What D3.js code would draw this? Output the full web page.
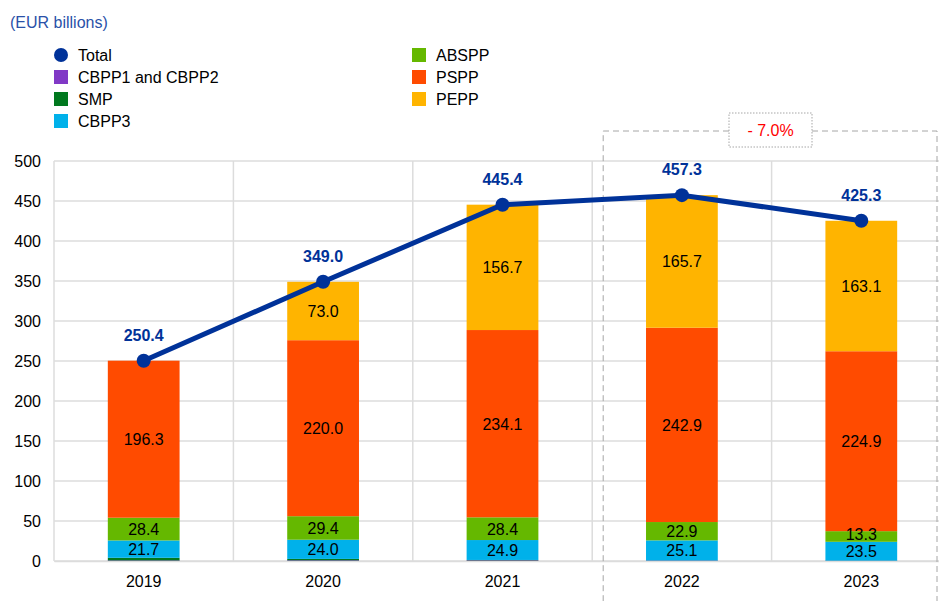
<!DOCTYPE html>
<html>
<head>
<meta charset="utf-8">
<script src="https://cdn.jsdelivr.net/npm/d3@7"></script>
<style>
  body { margin: 0; background: #fff; }
  text { font-family: "Liberation Sans", Arial, sans-serif; }
</style>
</head>
<body>
<div class="chart"></div>
<script>
// data (EUR billions)
var years = ["2019", "2020", "2021", "2022", "2023"];
var cbpp12 = [0.7, 0.8, 0.8, 0.5, 0.3];
var smp = [3.3, 1.8, 0.5, 0.2, 0.2];
var cbpp3 = [21.7, 24.0, 24.9, 25.1, 23.5];
var abspp = [28.4, 29.4, 28.4, 22.9, 13.3];
var pspp = [196.3, 220.0, 234.1, 242.9, 224.9];
var pepp = [0, 73.0, 156.7, 165.7, 163.1];
var total = [250.4, 349.0, 445.4, 457.3, 425.3];
var yTicks = [0, 50, 100, 150, 200, 250, 300, 350, 400, 450, 500];
var changeLabel = "- 7.0%";

var seriesNames = ["CBPP1 and CBPP2", "SMP", "CBPP3", "ABSPP", "PSPP", "PEPP"];
var seriesData = [cbpp12, smp, cbpp3, abspp, pspp, pepp];
var colors = ["#8139c6", "#00781e", "#00b1ea", "#65b800", "#ff4b00", "#ffb400"];
var labelled = [false, false, true, true, true, true];
var navy = "#003299";
var fs = "16px";

var svgWidth = 939;
var svgHeight = 601;

var svg = d3.select(".chart")
  .append("svg")
  .attr("width", svgWidth)
  .attr("height", svgHeight);

var x = d3.scaleBand()
  .domain(years)
  .range([54, 951])
  .padding(0);

var y = d3.scaleLinear()
  .domain([0, 500])
  .range([561, 161]);

// build stacked table
var table = years.map(function(yr, i) {
  var row = { year: yr };
  seriesNames.forEach(function(s, j) { row[s] = seriesData[j][i]; });
  return row;
});
var stacked = d3.stack().keys(seriesNames)(table);

// gridlines
svg.append("g")
  .selectAll("line")
  .data(yTicks)
  .enter()
  .append("line")
  .attr("x1", 54)
  .attr("x2", 951)
  .attr("y1", d => y(d))
  .attr("y2", d => y(d))
  .attr("stroke", "#dcdcdc")
  .attr("stroke-width", 1.5);

svg.append("g")
  .selectAll("line")
  .data(years)
  .enter()
  .append("line")
  .attr("x1", d => x(d))
  .attr("x2", d => x(d))
  .attr("y1", y(500))
  .attr("y2", y(0))
  .attr("stroke", "#dcdcdc")
  .attr("stroke-width", 1.5);

// y axis labels
var leftAxis = d3.axisLeft(y).tickValues(yTicks).tickSize(0).tickPadding(13);
var yAxis = svg.append("g")
  .attr("transform", "translate(54,0)")
  .call(leftAxis);
yAxis.select(".domain").remove();
yAxis.selectAll("text")
  .attr("font-size", fs)
  .attr("fill", "#000")
  .attr("font-family", "Liberation Sans, Arial, sans-serif");

// x axis labels
var bottomAxis = d3.axisBottom(x).tickSize(0).tickPadding(15);
var xAxis = svg.append("g")
  .attr("transform", `translate(0, ${y(0)})`)
  .call(bottomAxis);
xAxis.select(".domain").attr("stroke", "#dcdcdc").attr("stroke-width", 1.5);
xAxis.selectAll("text")
  .attr("font-size", fs)
  .attr("fill", "#000")
  .attr("font-family", "Liberation Sans, Arial, sans-serif");

// bars
var bw = x.bandwidth() * 0.4;
var layers = svg.append("g")
  .selectAll("g")
  .data(stacked)
  .enter()
  .append("g")
  .attr("fill", (d, i) => colors[i]);

layers.selectAll("rect")
  .data(d => d)
  .enter()
  .append("rect")
  .attr("x", d => x(d.data.year) + (x.bandwidth() - bw) / 2)
  .attr("width", bw)
  .attr("y", d => y(d[1]))
  .attr("height", d => y(d[0]) - y(d[1]));

// segment labels (thin segments get nudged up a little)
stacked.forEach(function(layer, j) {
  if (!labelled[j]) return;
  svg.append("g")
    .selectAll("text")
    .data(layer.filter(d => d[1] - d[0] > 0))
    .enter()
    .append("text")
    .attr("x", d => x(d.data.year) + x.bandwidth() / 2)
    .attr("y", function(d) {
      var h = y(d[0]) - y(d[1]);
      var mid = (y(d[0]) + y(d[1])) / 2 + 6;
      return h < 14 ? mid - 2 : mid;
    })
    .attr("text-anchor", "middle")
    .attr("font-size", fs)
    .attr("fill", "#000")
    .text(d => d3.format(".1f")(d[1] - d[0]));
});

// annotation box for 2022-2023
var boxLeft = x("2022") + 11;
var boxRight = 937;
var boxTop = 131;
var lblX0 = 729, lblX1 = 812, lblY0 = 113, lblY1 = 147;
var dash = svg.append("g")
  .attr("fill", "none")
  .attr("stroke", "#a6a6a6")
  .attr("stroke-width", 1)
  .attr("stroke-dasharray", "6,4");
dash.append("path")
  .attr("d", `M${lblX0},${boxTop} H${boxLeft} V${svgHeight}`);
dash.append("path")
  .attr("d", `M${lblX1},${boxTop} H${boxRight} V${svgHeight}`);

svg.append("rect")
  .attr("x", lblX0)
  .attr("y", lblY0)
  .attr("width", lblX1 - lblX0)
  .attr("height", lblY1 - lblY0)
  .attr("fill", "#fff")
  .attr("stroke", "#a6a6a6")
  .attr("stroke-width", 1)
  .attr("stroke-dasharray", "1.5,1.5");
svg.append("text")
  .attr("x", (lblX0 + lblX1) / 2)
  .attr("y", (lblY0 + lblY1) / 2 + 6)
  .attr("text-anchor", "middle")
  .attr("font-size", fs)
  .attr("fill", "#ff0000")
  .text(changeLabel);

// total line
var cx = d => x(d) + x.bandwidth() / 2;
var line = d3.line()
  .x((d, i) => cx(years[i]))
  .y(d => y(d));

svg.append("path")
  .datum(total)
  .attr("fill", "none")
  .attr("stroke", navy)
  .attr("stroke-width", 5)
  .attr("d", line);

svg.append("g")
  .selectAll("circle")
  .data(total)
  .enter()
  .append("circle")
  .attr("cx", (d, i) => cx(years[i]))
  .attr("cy", d => y(d))
  .attr("r", 7)
  .attr("fill", navy);

svg.append("g")
  .selectAll("text")
  .data(total)
  .enter()
  .append("text")
  .attr("x", (d, i) => cx(years[i]))
  .attr("y", d => y(d) - 20)
  .attr("text-anchor", "middle")
  .attr("font-size", fs)
  .attr("font-weight", "bold")
  .attr("fill", navy)
  .text(d => d3.format(".1f")(d));

// unit label
svg.append("text")
  .attr("x", 10)
  .attr("y", 28)
  .attr("font-size", fs)
  .attr("fill", "#2a51a8")
  .text("(EUR billions)");

// legend
var legendItems = [
  { name: "Total", color: navy, dot: true, col: 0, row: 0 },
  { name: "CBPP1 and CBPP2", color: colors[0], col: 0, row: 1 },
  { name: "SMP", color: colors[1], col: 0, row: 2 },
  { name: "CBPP3", color: colors[2], col: 0, row: 3 },
  { name: "ABSPP", color: colors[3], col: 1, row: 0 },
  { name: "PSPP", color: colors[4], col: 1, row: 1 },
  { name: "PEPP", color: colors[5], col: 1, row: 2 }
];
var legend = svg.append("g")
  .selectAll("g")
  .data(legendItems)
  .enter()
  .append("g")
  .attr("transform", d => `translate(${d.col === 0 ? 54 : 412}, ${55 + d.row * 22})`);

legend.filter(d => d.dot)
  .append("circle")
  .attr("cx", 7)
  .attr("cy", 0)
  .attr("r", 7)
  .attr("fill", d => d.color);
legend.filter(d => !d.dot)
  .append("rect")
  .attr("x", 0)
  .attr("y", -7)
  .attr("width", 14)
  .attr("height", 14)
  .attr("fill", d => d.color);
legend.append("text")
  .attr("x", 24)
  .attr("y", 6)
  .attr("font-size", fs)
  .attr("fill", "#000")
  .text(d => d.name);
</script>
</body>
</html>
